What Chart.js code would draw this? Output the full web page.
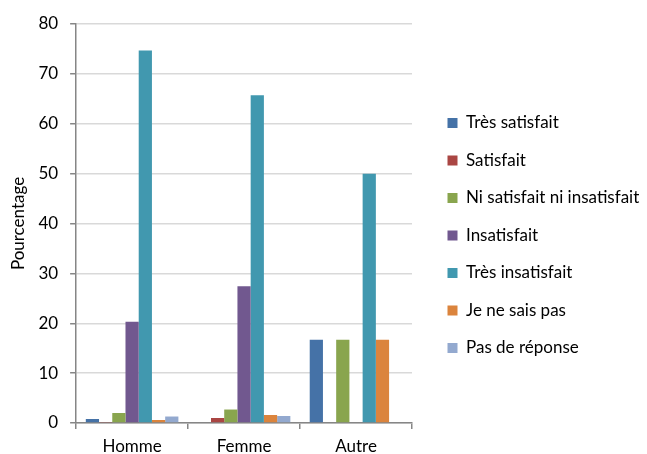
<!DOCTYPE html>
<html>
<head>
<meta charset="utf-8">
<script src="https://cdn.jsdelivr.net/npm/chart.js@4/dist/chart.umd.min.js"></script>
<style>
html,body{margin:0;padding:0;background:#fff;}
#wrap{width:647px;height:454px;position:relative;}
</style>
</head>
<body>
<div id="wrap"><canvas id="c" width="647" height="454"></canvas></div>
<script>
const categories = ["Homme", "Femme", "Autre"];
const seriesNames = ["Très satisfait", "Satisfait", "Ni satisfait ni insatisfait", "Insatisfait", "Très insatisfait", "Je ne sais pas", "Pas de réponse"];
const tresSatisfait   = [0.8, 0.0, 16.7];
const satisfait       = [0.2, 1.0, 0.0];
const niSatisfait     = [2.0, 2.7, 16.7];
const insatisfait     = [20.3, 27.4, 0.0];
const tresInsatisfait = [74.7, 65.7, 50.0];
const jeNeSaisPas     = [0.6, 1.6, 16.7];
const pasDeReponse    = [1.3, 1.4, 0.0];
const yTicks = [0, 10, 20, 30, 40, 50, 60, 70, 80];
const yTitle = "Pourcentage";

const colors = ["#4572A7", "#AA4643", "#89A54E", "#71588F", "#4198AF", "#DB843D", "#93A9CF"];
const seriesValues = [tresSatisfait, satisfait, niSatisfait, insatisfait, tresInsatisfait, jeNeSaisPas, pasDeReponse];

const FONT = "Lato";
const FS = 17;

const legendPlace = {
  id: 'legendPlace',
  afterInit(chart) {
    const lg = chart.legend;
    const orig = lg.fit.bind(lg);
    lg.fit = function () { orig(); this.width = 235; };
  },
  afterLayout(chart) {
    const lg = chart.legend;
    const dx = 15;
    lg.left += dx; lg.right += dx;
    const dy = -8.5;
    lg.top += dy; lg.bottom += dy;
  }
};

function draw() {
  new Chart(document.getElementById('c'), {
    type: 'bar',
    data: {
      labels: categories,
      datasets: seriesNames.map((n, i) => ({
        label: n,
        data: seriesValues[i],
        backgroundColor: colors[i],
        borderWidth: 0,
        categoryPercentage: 0.827,
        barPercentage: 1.0
      }))
    },
    plugins: [legendPlace],
    options: {
      responsive: false,
      animation: false,
      devicePixelRatio: 1,
      layout: { padding: { top: 24, right: 0, bottom: -10, left: 8 } },
      plugins: {
        tooltip: { enabled: false },
        legend: {
          position: 'right',
          align: 'center',
          labels: {
            boxWidth: 10,
            boxHeight: 10,
            padding: 20.5,
            color: '#000',
            font: { family: FONT, size: FS }
          }
        }
      },
      scales: {
        x: {
          grid: { display: true, drawOnChartArea: false, drawTicks: true, tickLength: 6, color: '#868686', lineWidth: 1.5, offset: true },
          border: { display: true, color: '#868686', width: 1.5 },
          ticks: { color: '#000', font: { family: FONT, size: FS, lineHeight: 1 }, padding: 9 }
        },
        y: {
          min: 0, max: 80,
          afterBuildTicks: (axis) => { axis.ticks = yTicks.map(v => ({ value: v })); },
          grid: { color: '#d9d9d9', lineWidth: 1.5, tickLength: 6, tickColor: '#868686' },
          border: { display: true, color: '#868686', width: 1.5 },
          ticks: { color: '#000', font: { family: FONT, size: FS }, padding: 12 },
          title: { display: true, text: yTitle, color: '#000', font: { family: FONT, size: FS, lineHeight: 1.2 }, padding: { top: 0, bottom: -2 } }
        }
      }
    }
  });
}

Promise.all([document.fonts.load(FS + "px " + FONT)]).then(draw, draw);
</script>
</body>
</html>
